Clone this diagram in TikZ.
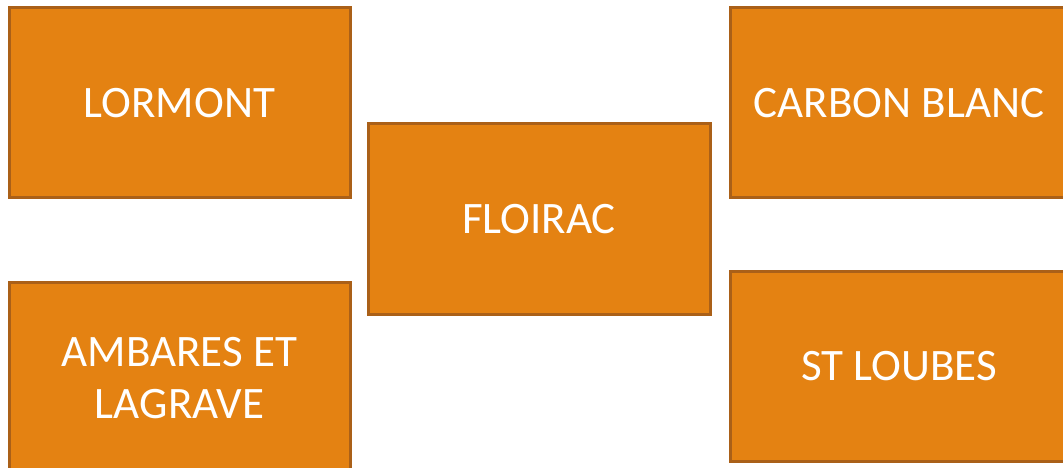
\documentclass[tikz,border=0pt]{standalone}
\usepackage{fontspec}
\setmainfont{Carlito}
\definecolor{boxfill}{RGB}{228,130,18}
\definecolor{boxedge}{RGB}{170,96,24}
\begin{document}
\begin{tikzpicture}[x=1pt,y=-1pt,
  townbox/.style={draw=boxedge,fill=boxfill,line width=3pt},
  townlabel/.style={text=white,font=\fontsize{45}{52}\selectfont,align=center}]
\useasboundingbox[fill=white] (0,0) rectangle (1063,468);
\begin{scope}
\clip (0,0) rectangle (1063,468);
% boxes
\draw[townbox] (9,8) rectangle (350,197);
\draw[townbox] (9,282) rectangle (350,474);
\draw[townbox] (368,124) rectangle (710,314);
\draw[townbox] (730,8) rectangle (1070,197);
\draw[townbox] (730,271) rectangle (1070,461);
% labels
\node[townlabel] (lormont) at (179.5,103) {LORMONT};
\node[townlabel] (ambares) at (179.5,378) {AMBARES ET\\LAGRAVE};
\node[townlabel] (floirac) at (539,219) {FLOIRAC};
\node[townlabel] (carbon) at (899,103) {CARBON BLANC};
\node[townlabel] (stloubes) at (899,366) {ST LOUBES};
\end{scope}
\end{tikzpicture}
\end{document}
